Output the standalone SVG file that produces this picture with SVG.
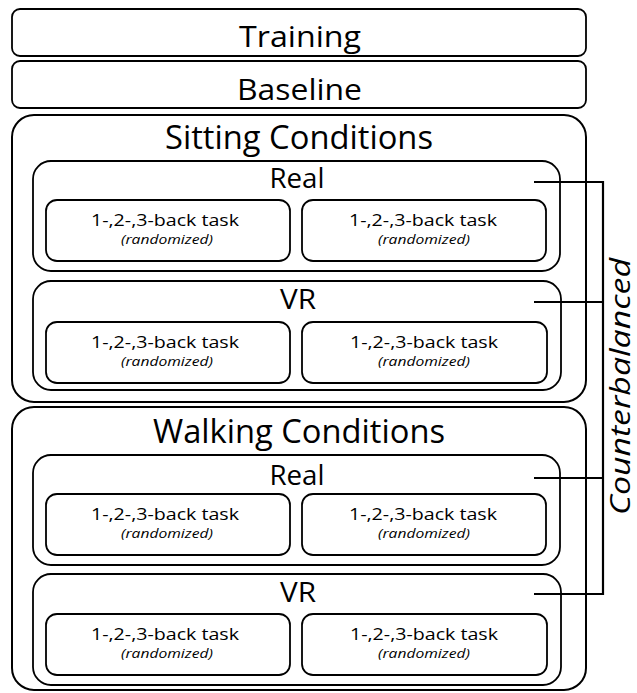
<svg xmlns="http://www.w3.org/2000/svg" width="637" height="693" viewBox="0 0 637 693">
<style>
rect{fill:none;stroke:#000;stroke-width:1.8}
rect.bg{fill:#fff;stroke:none}
.outer{stroke-width:2}
text{font-family:"Open Sans","Liberation Sans",sans-serif;fill:#000;text-anchor:middle}
.h1{font-size:30px}
.h2{font-size:33px}
.h3{font-size:27px}
.t{font-size:16px}
.r{font-size:12.5px;font-style:italic}
.cb{font-size:28px;font-style:italic}
.conn line{stroke:#000;stroke-width:2.2}
</style>
<rect class="bg" width="637" height="693"/>
<g id="training"><rect x="12" y="9" width="574" height="47" rx="8"/><text class="h1" x="300" y="47" textLength="122" lengthAdjust="spacingAndGlyphs">Training</text></g>
<g id="baseline"><rect x="12" y="61" width="574" height="47" rx="8"/><text class="h1" x="299.5" y="100" textLength="125" lengthAdjust="spacingAndGlyphs">Baseline</text></g>
<g id="sitting"><rect class="outer" x="12" y="115" width="574" height="287" rx="22"/><text class="h2" x="299" y="149" textLength="268" lengthAdjust="spacingAndGlyphs">Sitting Conditions</text></g>
<g id="sitting-real"><rect x="33" y="161" width="527" height="110" rx="18"/><text class="h3" x="297" y="188" textLength="55" lengthAdjust="spacingAndGlyphs">Real</text></g>
<g id="sr-task1"><rect x="46" y="200" width="244" height="61" rx="11"/><text class="t" x="165" y="226" textLength="148" lengthAdjust="spacingAndGlyphs">1-,2-,3-back task</text><text class="r" x="167" y="244" textLength="92" lengthAdjust="spacingAndGlyphs">(randomized)</text></g>
<g id="sr-task2"><rect x="302" y="200" width="244" height="61" rx="11"/><text class="t" x="423" y="226" textLength="148" lengthAdjust="spacingAndGlyphs">1-,2-,3-back task</text><text class="r" x="424" y="244" textLength="92" lengthAdjust="spacingAndGlyphs">(randomized)</text></g>
<g id="sitting-vr"><rect x="33" y="281" width="528" height="109" rx="18"/><text class="h3" x="298" y="309" textLength="36" lengthAdjust="spacingAndGlyphs">VR</text></g>
<g id="sv-task1"><rect x="46" y="322" width="244" height="61" rx="11"/><text class="t" x="165" y="348" textLength="148" lengthAdjust="spacingAndGlyphs">1-,2-,3-back task</text><text class="r" x="167" y="366" textLength="92" lengthAdjust="spacingAndGlyphs">(randomized)</text></g>
<g id="sv-task2"><rect x="302" y="322" width="245" height="61" rx="11"/><text class="t" x="424" y="348" textLength="148" lengthAdjust="spacingAndGlyphs">1-,2-,3-back task</text><text class="r" x="424" y="366" textLength="92" lengthAdjust="spacingAndGlyphs">(randomized)</text></g>
<g id="walking"><rect class="outer" x="12" y="407" width="574" height="283" rx="22"/><text class="h2" x="299" y="443" textLength="292" lengthAdjust="spacingAndGlyphs">Walking Conditions</text></g>
<g id="walking-real"><rect x="33" y="455" width="527" height="110" rx="18"/><text class="h3" x="297" y="485" textLength="55" lengthAdjust="spacingAndGlyphs">Real</text></g>
<g id="wr-task1"><rect x="46" y="494" width="244" height="61" rx="11"/><text class="t" x="165" y="520" textLength="148" lengthAdjust="spacingAndGlyphs">1-,2-,3-back task</text><text class="r" x="167" y="538" textLength="92" lengthAdjust="spacingAndGlyphs">(randomized)</text></g>
<g id="wr-task2"><rect x="302" y="494" width="244" height="61" rx="11"/><text class="t" x="423" y="520" textLength="148" lengthAdjust="spacingAndGlyphs">1-,2-,3-back task</text><text class="r" x="424" y="538" textLength="92" lengthAdjust="spacingAndGlyphs">(randomized)</text></g>
<g id="walking-vr"><rect x="33" y="574" width="528" height="111" rx="18"/><text class="h3" x="298" y="602" textLength="36" lengthAdjust="spacingAndGlyphs">VR</text></g>
<g id="wv-task1"><rect x="46" y="614" width="244" height="61" rx="11"/><text class="t" x="165" y="640" textLength="148" lengthAdjust="spacingAndGlyphs">1-,2-,3-back task</text><text class="r" x="167" y="658" textLength="92" lengthAdjust="spacingAndGlyphs">(randomized)</text></g>
<g id="wv-task2"><rect x="302" y="614" width="245" height="61" rx="11"/><text class="t" x="424" y="640" textLength="148" lengthAdjust="spacingAndGlyphs">1-,2-,3-back task</text><text class="r" x="424" y="658" textLength="92" lengthAdjust="spacingAndGlyphs">(randomized)</text></g>
<g id="connectors" class="conn">
<line x1="534" y1="182" x2="604" y2="182"/>
<line x1="534" y1="302" x2="604" y2="302"/>
<line x1="534" y1="478" x2="604" y2="478"/>
<line x1="534" y1="594" x2="604" y2="594"/>
<line x1="603" y1="181" x2="603" y2="595"/>
</g>
<g id="counterbalanced"><text class="cb" transform="translate(630 386.5) rotate(-90)" x="0" y="0" textLength="257" lengthAdjust="spacingAndGlyphs">Counterbalanced</text></g>
</svg>
